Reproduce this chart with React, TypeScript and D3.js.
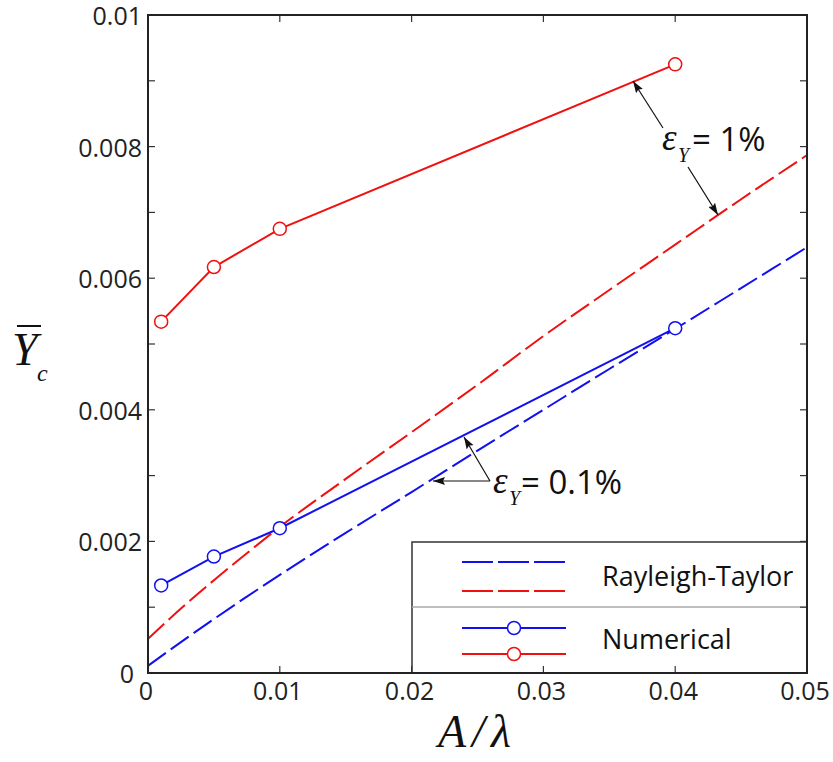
import React from 'react';
import * as d3 from 'd3';

// Rayleigh-Taylor (dashed) curves
const rtX = [0, 0.0025, 0.005, 0.0075, 0.01, 0.015, 0.02, 0.025, 0.03, 0.035, 0.04, 0.045, 0.05];
const rtRed = [0.00052, 0.00098, 0.00141, 0.00182, 0.00222, 0.00295, 0.00366, 0.00438, 0.00512, 0.00582, 0.00651, 0.0072, 0.00787];
const rtBlue = [0.00011, 0.00047, 0.00082, 0.00116, 0.00149, 0.00213, 0.00275, 0.00338, 0.004, 0.00462, 0.00523, 0.00585, 0.00647];

// Numerical (solid with circles)
const numX = [0.001, 0.005, 0.01, 0.04];
const numRed = [0.00534, 0.00617, 0.00675, 0.00925];
const numBlue = [0.00133, 0.00177, 0.0022, 0.00524];

const xTicks = [0, 0.01, 0.02, 0.03, 0.04, 0.05];
const xTickLabels = ['0', '0.01', '0.02', '0.03', '0.04', '0.05'];
const yTicks = [0, 0.002, 0.004, 0.006, 0.008, 0.01];
const yTickLabels = ['0', '0.002', '0.004', '0.006', '0.008', '0.01'];
const yMinorTicks = [0.001, 0.003, 0.005, 0.007, 0.009];

const legendLabels = ['Rayleigh-Taylor', 'Numerical'];

const W = 833;
const H = 762;
const L = 148;
const T = 15;
const R = 807;
const B = 673;

const BLUE = '#1010f0';
const RED = '#f01010';
const SANS = '"Open Sans", "DejaVu Sans", sans-serif';
const SERIF = '"Liberation Serif", "DejaVu Serif", serif';

export default function App() {
  const x = d3.scaleLinear().domain([0, 0.05]).range([L, R]);
  const y = d3.scaleLinear().domain([0, 0.01]).range([B, T]);

  const line = d3
    .line<[number, number]>()
    .x((d) => x(d[0]))
    .y((d) => y(d[1]))
    .curve(d3.curveMonotoneX);
  const straight = d3
    .line<[number, number]>()
    .x((d) => x(d[0]))
    .y((d) => y(d[1]));

  const zip = (a: number[], b: number[]) => a.map((v, i) => [v, b[i]] as [number, number]);

  const tickLen = 7;
  const dash = '22 6';

  return (
    <svg
      width={W}
      height={H}
      style={{ position: 'absolute', left: 0, top: 0, background: '#fff' }}
    >
      <defs>
        <marker
          id="arrow"
          viewBox="0 0 12 8"
          refX="12"
          refY="4"
          markerWidth="12"
          markerHeight="8"
          markerUnits="userSpaceOnUse"
          orient="auto"
        >
          <path d="M0,0 L12,4 L0,8 L2,4 z" fill="#111" />
        </marker>
        <clipPath id="plot">
          <rect x={L} y={T} width={R - L} height={B - T} />
        </clipPath>
      </defs>

      {/* data */}
      <g clipPath="url(#plot)">
        <path d={line(zip(rtX, rtBlue)) || ''} fill="none" stroke={BLUE} strokeWidth={2} strokeDasharray={dash} />
        <path d={line(zip(rtX, rtRed)) || ''} fill="none" stroke={RED} strokeWidth={2} strokeDasharray={dash} />
        <path d={straight(zip(numX, numBlue)) || ''} fill="none" stroke={BLUE} strokeWidth={2} />
        <path d={straight(zip(numX, numRed)) || ''} fill="none" stroke={RED} strokeWidth={2} />
        {numX.map((v, i) => (
          <circle key={'b' + i} cx={x(v)} cy={y(numBlue[i])} r={6.5} fill="#fff" stroke={BLUE} strokeWidth={1.5} />
        ))}
        {numX.map((v, i) => (
          <circle key={'r' + i} cx={x(v)} cy={y(numRed[i])} r={6.5} fill="#fff" stroke={RED} strokeWidth={1.5} />
        ))}
      </g>

      {/* annotations */}
      <g stroke="#111" strokeWidth={1.2} fill="none">
        <line x1={663} y1={128} x2={633} y2={81} markerEnd="url(#arrow)" />
        <line x1={688} y1={167} x2={718} y2={215} markerEnd="url(#arrow)" />
        <line x1={490} y1={481} x2={464} y2={437} markerEnd="url(#arrow)" />
        <line x1={490} y1={481} x2={433} y2={481} markerEnd="url(#arrow)" />
      </g>
      <g fill="#111">
        <text x={662} y={150} fontFamily={SERIF} fontStyle="italic" fontSize={37}>ε</text>
        <text x={678} y={162} fontFamily={SERIF} fontStyle="italic" fontSize={20}>Y</text>
        <text x={692} y={151} fontFamily={SANS} fontSize={33}>= 1%</text>
        <text x={493} y={493} fontFamily={SERIF} fontStyle="italic" fontSize={37}>ε</text>
        <text x={509} y={505} fontFamily={SERIF} fontStyle="italic" fontSize={20}>Y</text>
        <text x={521} y={494} fontFamily={SANS} fontSize={33}>= 0.1%</text>
      </g>

      {/* legend */}
      <g>
        <rect x={412} y={542} width={R - 412} height={B - 542} fill="#fff" stroke="#333" strokeWidth={1.5} />
        <line x1={412} x2={R} y1={607} y2={607} stroke="#aaa" strokeWidth={1.5} />
        <line x1={462} x2={566} y1={562} y2={562} stroke={BLUE} strokeWidth={2} strokeDasharray="31 5" />
        <line x1={462} x2={566} y1={591} y2={591} stroke={RED} strokeWidth={2} strokeDasharray="31 5" />
        <line x1={462} x2={566} y1={628} y2={628} stroke={BLUE} strokeWidth={2} />
        <line x1={462} x2={566} y1={654} y2={654} stroke={RED} strokeWidth={2} />
        <circle cx={514} cy={628} r={6.5} fill="#fff" stroke={BLUE} strokeWidth={1.5} />
        <circle cx={514} cy={654} r={6.5} fill="#fff" stroke={RED} strokeWidth={1.5} />
        <text x={602} y={586} fontFamily={SANS} fontSize={27} fill="#111">{legendLabels[0]}</text>
        <text x={602} y={649} fontFamily={SANS} fontSize={27} fill="#111">{legendLabels[1]}</text>
      </g>

      {/* ticks */}
      <g stroke="#333" strokeWidth={1.2}>
        {xTicks.map((t, i) => (
          <g key={'xt' + i}>
            <line x1={x(t)} x2={x(t)} y1={B} y2={B - tickLen} />
            <line x1={x(t)} x2={x(t)} y1={T} y2={T + tickLen} />
          </g>
        ))}
        {yTicks.concat(yMinorTicks).map((t, i) => (
          <g key={'yt' + i}>
            <line x1={L} x2={L + tickLen} y1={y(t)} y2={y(t)} />
            <line x1={R} x2={R - tickLen} y1={y(t)} y2={y(t)} />
          </g>
        ))}
      </g>

      {/* frame */}
      <rect x={L} y={T} width={R - L} height={B - T} fill="none" stroke="#222" strokeWidth={2} />

      {/* tick labels */}
      <g fontFamily={SANS} fontSize={25} fill="#222">
        {xTicks.map((t, i) => (
          <text key={'xl' + i} x={x(t) - 2} y={700} textAnchor="middle">{xTickLabels[i]}</text>
        ))}
        {yTicks.map((t, i) => (
          <text key={'yl' + i} x={t === 0 ? 134 : 142} y={y(t) + 1} dy="0.36em" textAnchor="end">{yTickLabels[i]}</text>
        ))}
      </g>

      {/* axis titles */}
      <g fontFamily={SERIF} fontStyle="italic" fill="#111">
        <text x={438} y={747} fontSize={46}>A<tspan dx={6}>/</tspan><tspan dx={6}>λ</tspan></text>
        <text x={12} y={365} fontSize={46}>Y</text>
        <line x1={17} x2={41} y1={326} y2={326} stroke="#111" strokeWidth={2} />
        <text x={37} y={381} fontSize={24}>c</text>
      </g>
    </svg>
  );
}
